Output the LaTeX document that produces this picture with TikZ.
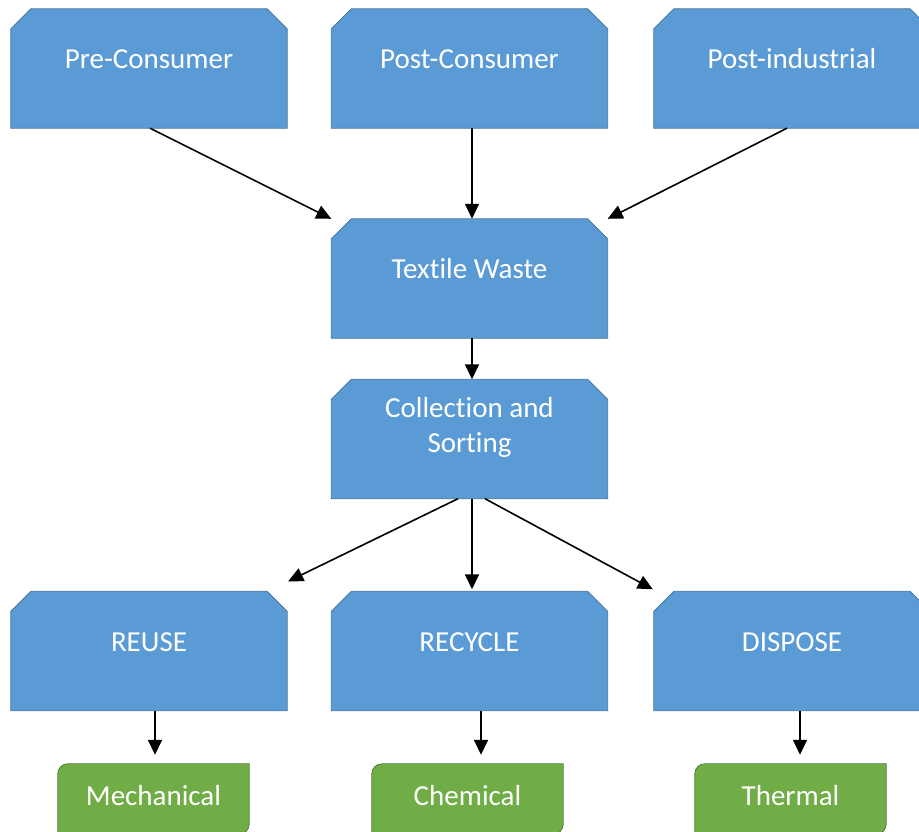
\documentclass[tikz,border=0pt]{standalone}
\usepackage{fontspec}
\setmainfont{Carlito}[Ligatures=NoCommon]
\usepackage{tikz}
\usetikzlibrary{arrows.meta,backgrounds}
\definecolor{boxBlue}{HTML}{5B9BD5}
\definecolor{boxBlueEdge}{HTML}{41719C}
\definecolor{boxGreen}{HTML}{70AD47}
\definecolor{boxGreenEdge}{HTML}{507E32}
\newcommand{\boxFont}{\fontsize{29pt}{35pt}\selectfont}

\begin{document}
\begin{tikzpicture}[node distance=321pt]
        \tikzset{
           source/.style={
                        rectangle,
                        minimum width=276pt,
                        minimum height=119pt,
                        inner sep=0pt,
                        text=white,
                        font=\boxFont,
                        text height=10pt,
                        text depth=10pt
                       },
           stage/.style={
                        source,
                        align=center
                       },
           method/.style={
                        rectangle,
                        minimum width=191pt,
                        minimum height=70pt,
                        inner sep=0pt,
                        text=white,
                        font=\boxFont,
                        text height=18pt,
                        text depth=6pt
                       },
           snipFill/.style={
                        fill=boxBlue,
                        draw=boxBlueEdge,
                        line width=0.8pt
                       },
           leafFill/.style={
                        fill=boxGreen,
                        draw=boxGreenEdge,
                        line width=0.8pt
                       },
           flow/.style={
                        line width=1.6pt,
                        -{Triangle[width=14pt,length=15pt]}
                       },
                 };
    \useasboundingbox (0,0) rectangle (919pt,-832pt);
    %--------------------
        \node[source]  (preConsumer)                                              at (149pt,-68.5pt) {Pre-Consumer};
        \node[source]  (postConsumer)   [right of=preConsumer, node distance=320.5pt]                  {Post-Consumer};
        \node[source]  (postIndustrial) [right of=postConsumer, node distance=322.5pt]                 {Post-industrial};

        \node[source]  (textileWaste)   [below of=postConsumer, node distance=210pt]                   {Textile Waste};
        \node[stage, text height=26pt, text depth=0pt]
                       (collection)     [below of=textileWaste, node distance=160.5pt]                 {Collection and\\Sorting};

        \node[source]  (recycle)        [below of=collection, node distance=212pt]                     {RECYCLE};
        \node[source]  (reuse)          [left of=recycle, node distance=320.5pt]                       {REUSE};
        \node[source]  (dispose)        [right of=recycle, node distance=322.5pt]                      {DISPOSE};

        \node[method]  (mechanical)     [below of=reuse, node distance=148pt, xshift=4.5pt]            {Mechanical};
        \node[method]  (chemical)       [below of=recycle, node distance=148pt, xshift=-2pt]           {Chemical};
        \node[method]  (thermal)        [below of=dispose, node distance=148pt, xshift=-1.5pt]         {Thermal};
    %--------------------
        \begin{scope}[on background layer]
            \foreach \n in {preConsumer,postConsumer,postIndustrial,textileWaste,collection,reuse,recycle,dispose}
                \draw[snipFill] (\n.south west) -- ([yshift=-20pt]\n.north west) -- ([xshift=20pt]\n.north west)
                    -- ([xshift=-20pt]\n.north east) -- ([yshift=-20pt]\n.north east) -- (\n.south east) -- cycle;
            \foreach \n in {mechanical,chemical,thermal}
                \draw[leafFill] (\n.south west) -- (\n.west) [rounded corners=10pt] -- (\n.north west)
                    [sharp corners] -- (\n.north east) -- (\n.east) [rounded corners=10pt] -- (\n.south east)
                    [sharp corners] -- cycle;
        \end{scope}
    %--------------------
        \path[flow] ([xshift=1pt]preConsumer.south)     edge (textileWaste.north west)
                    ([xshift=2.5pt]postConsumer.south)  edge ([xshift=2.5pt]textileWaste.north)
                    ([xshift=-5pt]postIndustrial.south) edge (textileWaste.north east)

                    ([xshift=2.5pt]textileWaste.south)  edge ([xshift=2.5pt]collection.north)

                    ([xshift=-11.5pt]collection.south)  edge ([xshift=1pt,yshift=10pt]reuse.north east)
                    ([xshift=2.5pt]collection.south)    edge ([xshift=2.5pt,yshift=2pt]recycle.north)
                    ([xshift=15.5pt]collection.south)   edge ([xshift=-1pt,yshift=2pt]dispose.north west)

                    ([xshift=6pt]reuse.south)           edge[shorten >=9pt] ([xshift=1.5pt]mechanical.north)
                    ([xshift=11.5pt]recycle.south)      edge[shorten >=9pt] ([xshift=13.5pt]chemical.north)
                    ([xshift=8pt]dispose.south)         edge[shorten >=9pt] ([xshift=9.5pt]thermal.north);
    \end{tikzpicture}
\end{document}
